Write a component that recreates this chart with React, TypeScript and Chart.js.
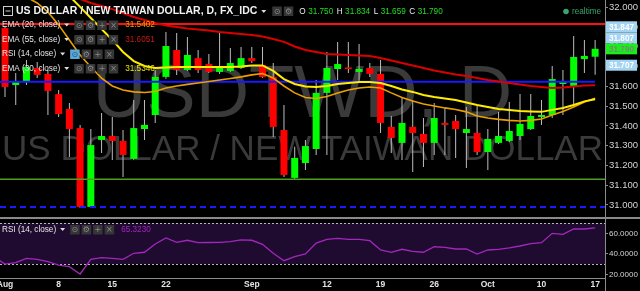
import React, { useEffect, useRef } from "react";
import { Chart, registerables } from "chart.js";

Chart.register(...registerables);

const FONT = "'Liberation Sans', Arial, sans-serif";

// ---------- data (index 0 = Jul 29 2016, index 56 = Oct 17 2016) ----------
const opens = [31.960, 31.895, 31.607, 31.622, 31.693, 31.663, 31.561, 31.486, 31.389, 30.990,
  31.329, 31.349, 31.324, 31.233, 31.384, 31.455, 31.648, 31.784, 31.683, 31.743,
  31.713, 31.673, 31.678, 31.693, 31.743, 31.708, 31.648, 31.379, 31.137, 31.212,
  31.283, 31.567, 31.688, 31.693, 31.673, 31.693, 31.663, 31.395, 31.314, 31.395,
  31.359, 31.314, 31.415, 31.425, 31.364, 31.364, 31.268, 31.314, 31.324, 31.349,
  31.384, 31.445, 31.455, 31.612, 31.602, 31.738, 31.750];
const highs = [31.990, 31.905, 31.668, 31.733, 31.723, 31.683, 31.582, 31.516, 31.405, 31.384,
  31.465, 31.445, 31.379, 31.531, 31.531, 31.683, 31.875, 31.870, 31.850, 31.784,
  31.764, 31.875, 31.794, 31.799, 31.799, 31.799, 31.718, 31.506, 31.294, 31.329,
  31.632, 31.774, 31.824, 31.824, 31.814, 31.718, 31.733, 31.450, 31.541, 31.531,
  31.440, 31.516, 31.491, 31.455, 31.496, 31.501, 31.384, 31.470, 31.521, 31.561,
  31.561, 31.531, 31.703, 31.683, 31.855, 31.835, 31.834];
const lows = [31.880, 31.546, 31.506, 31.607, 31.642, 31.455, 31.445, 31.243, 30.985, 30.985,
  31.263, 31.228, 31.142, 31.228, 31.329, 31.415, 31.638, 31.658, 31.678, 31.668,
  31.668, 31.663, 31.673, 31.688, 31.718, 31.643, 31.344, 31.142, 31.127, 31.177,
  31.253, 31.253, 31.632, 31.668, 31.617, 31.648, 31.364, 31.263, 31.228, 31.167,
  31.192, 31.253, 31.253, 31.238, 31.187, 31.253, 31.177, 31.309, 31.319, 31.329,
  31.379, 31.405, 31.440, 31.455, 31.496, 31.668, 31.659];
const closes = [31.900, 31.597, 31.622, 31.698, 31.658, 31.577, 31.460, 31.384, 30.990, 31.303,
  31.349, 31.324, 31.253, 31.389, 31.405, 31.648, 31.804, 31.683, 31.759, 31.683,
  31.673, 31.703, 31.718, 31.743, 31.728, 31.648, 31.395, 31.152, 31.238, 31.298,
  31.567, 31.693, 31.713, 31.688, 31.688, 31.663, 31.415, 31.339, 31.415, 31.364,
  31.314, 31.440, 31.405, 31.384, 31.384, 31.268, 31.334, 31.349, 31.374, 31.410,
  31.450, 31.455, 31.637, 31.622, 31.749, 31.754, 31.790];

const ema20 = [32.128, 32.103, 32.077, 32.052, 32.022, 31.976, 31.911, 31.835, 31.759, 31.698,
  31.642, 31.602, 31.582, 31.572, 31.569, 31.574, 31.592, 31.602, 31.610, 31.617,
  31.625, 31.632, 31.640, 31.648, 31.658, 31.665, 31.642, 31.602, 31.567, 31.544,
  31.539, 31.549, 31.567, 31.582, 31.592, 31.597, 31.592, 31.567, 31.544, 31.526,
  31.511, 31.501, 31.491, 31.483, 31.471, 31.450, 31.440, 31.433, 31.428, 31.425,
  31.428, 31.435, 31.455, 31.473, 31.496, 31.521, 31.5402];
const ema30 = [32.330, 32.300, 32.265, 32.229, 32.189, 32.148, 32.098, 32.057, 32.002, 31.946,
  31.890, 31.835, 31.774, 31.728, 31.703, 31.693, 31.696, 31.698, 31.698, 31.698,
  31.698, 31.698, 31.698, 31.701, 31.706, 31.706, 31.678, 31.637, 31.612, 31.599,
  31.597, 31.602, 31.612, 31.617, 31.622, 31.622, 31.617, 31.602, 31.584, 31.572,
  31.556, 31.546, 31.539, 31.531, 31.518, 31.506, 31.496, 31.486, 31.481, 31.476,
  31.473, 31.471, 31.481, 31.491, 31.506, 31.524, 31.5346];
const ema55 = [32.209, 32.184, 32.158, 32.133, 32.113, 32.093, 32.072, 32.057, 32.042, 32.022,
  32.007, 31.991, 31.971, 31.951, 31.936, 31.921, 31.908, 31.900, 31.893, 31.888,
  31.883, 31.875, 31.870, 31.865, 31.860, 31.852, 31.840, 31.825, 31.802, 31.784,
  31.774, 31.764, 31.761, 31.759, 31.756, 31.754, 31.744, 31.731, 31.718, 31.706,
  31.693, 31.680, 31.670, 31.660, 31.653, 31.642, 31.632, 31.625, 31.617, 31.610,
  31.602, 31.597, 31.592, 31.594, 31.599, 31.604, 31.6051];
const rsi14 = [37, 30, 31.3, 35.6, 34.6, 32.3, 29, 27.4, 20.3, 34.6,
  36.2, 35.6, 34.6, 40.5, 41.5, 49.6, 55.4, 51.2, 53.2, 50.9,
  51, 51.2, 51.8, 53.5, 53.2, 49.3, 40.5, 33.3, 37.2, 39.8,
  50.5, 54.1, 55.1, 54.1, 54.1, 52.8, 43.7, 41.5, 44.4, 42.4,
  41.5, 46.9, 46.3, 44.7, 44.7, 39.8, 43.7, 44.4, 45.7, 47.6,
  49.9, 50.8, 60, 59, 64.2, 64.2, 65.323];

const levelValues = [31.916, 31.624, 31.13, 30.99];
const priceMarks = [31.847, 31.807, 31.707];
const xTickIndex = [1, 6, 11, 16, 24, 31, 36, 41, 46, 51, 56];
const xTickText = ["Aug", "8", "15", "22", "Sep", "12", "19", "26", "Oct", "10", "17"];
const priceTickValues = [31.0, 31.1, 31.2, 31.3, 31.4, 31.5, 31.6, 31.7, 31.8, 31.9, 32.0];
const rsiTickValues = [20, 40, 60];
const rsiBand = [30, 70];

const symbolTitle = "US DOLLAR / NEW TAIWAN DOLLAR, D, FX_IDC";
const watermarkMain = "USDTWD, D";
const watermarkSub = "US DOLLAR / NEW TAIWAN DOLLAR";
const studyNames = ["EMA (20, close)", "EMA (55, close)", "RSI (14, close)", "EMA (30, close)"];

// ---------- view / style ----------
const X_MIN = 0.534, X_MAX = 56.92;
const P_MIN = 30.934, P_MAX = 32.037;
const R_MIN = 16.39, R_MAX = 73.95;
const UP = "#00ff00", DOWN = "#ff0000", WICK = "#bdbdbd";
const C_EMA20 = "#eaa000", C_EMA30 = "#ffec00", C_EMA55 = "#d90000", C_RSI = "#a326bd";
const levelStyles = [
  { color: "#ff1010", width: 2, dash: [] as number[], toLast: false },
  { color: "#1a1aff", width: 2, dash: [] as number[], toLast: true },
  { color: "#4f9e22", width: 1.5, dash: [] as number[], toLast: false },
  { color: "#1a1aff", width: 2, dash: [6, 4], toLast: false },
];

const last = closes.length - 1;
const idx = closes.map((_, i) => i);

function caret(ctx: CanvasRenderingContext2D, x: number, y: number, color: string) {
  ctx.fillStyle = color;
  ctx.beginPath();
  ctx.moveTo(x, y - 1.5);
  ctx.lineTo(x + 5, y - 1.5);
  ctx.lineTo(x + 2.5, y + 1.5);
  ctx.closePath();
  ctx.fill();
}

function buttons(ctx: CanvasRenderingContext2D, x: number, y: number, glyphs: string[], active: number) {
  glyphs.forEach((g, i) => {
    const bx = x + i * 11.5;
    ctx.fillStyle = i === active ? "#5ba8d8" : "#363636";
    ctx.fillRect(bx, y - 4.5, 9.5, 9.5);
    ctx.fillStyle = i === active ? "#1d4f7a" : "#8a8a8a";
    ctx.font = "8px 'DejaVu Sans', sans-serif";
    ctx.textAlign = "center";
    ctx.textBaseline = "middle";
    ctx.fillText(g, bx + 4.75, y + 0.5);
  });
  ctx.textAlign = "left";
}

const mainPlugin = {
  id: "mainOverlay",
  beforeDatasetsDraw(chart: any) {
    const { ctx, chartArea } = chart;
    const cx = (chartArea.left + chartArea.right) / 2;
    ctx.save();
    ctx.fillStyle = "#3a3a3a";
    ctx.textAlign = "center";
    ctx.textBaseline = "alphabetic";
    ctx.font = `74px ${FONT}`;
    ctx.fillText(watermarkMain, cx, 117);
    ctx.font = `35px ${FONT}`;
    ctx.fillText(watermarkSub, cx, 160);
    ctx.restore();
  },
  afterDraw(chart: any) {
    const { ctx } = chart;
    const yScale = chart.scales.y;
    ctx.save();
    ctx.textBaseline = "middle";
    ctx.textAlign = "left";
    ctx.strokeStyle = "#cfcfcf";
    ctx.lineWidth = 1;
    ctx.strokeRect(3.5, 6.5, 9, 9);
    ctx.beginPath();
    ctx.moveTo(5.5, 11);
    ctx.lineTo(10.5, 11);
    ctx.stroke();
    ctx.font = `bold 10.5px ${FONT}`;
    ctx.fillStyle = "#f2f2f2";
    ctx.fillText(symbolTitle, 16, 11.5);
    let x = 16 + ctx.measureText(symbolTitle).width + 4;
    caret(ctx, x, 11.5, "#dddddd");
    x += 11;
    buttons(ctx, x, 11, ["\u2299", "\u2699"], -1);
    x += 2 * 11.5 + 4;
    const ohlc: [string, number][] = [["O", opens[last]], ["H", highs[last]], ["L", lows[last]], ["C", closes[last]]];
    ctx.font = `8.2px ${FONT}`;
    ohlc.forEach(([k, v]) => {
      ctx.fillStyle = "#eeeeee";
      ctx.fillText(k, x, 11.5);
      x += ctx.measureText(k).width + 2.5;
      const s = v.toFixed(3);
      ctx.fillStyle = "#22dd22";
      ctx.fillText(s, x, 11.5);
      x += ctx.measureText(s).width + 3.5;
    });
    ctx.fillStyle = "#3aa56f";
    ctx.beginPath();
    ctx.arc(566, 11.5, 2.8, 0, Math.PI * 2);
    ctx.fill();
    ctx.fillText("realtime", 572, 11.5);

    const rowY = [25, 39.5, 54, 68.5];
    const rowVals: (string | null)[] = [ema20[last].toFixed(4), ema55[last].toFixed(4), null, ema30[last].toFixed(4)];
    const rowCols = [C_EMA20, "#cc1515", "", "#e8e800"];
    studyNames.forEach((name, r) => {
      ctx.font = `8.2px ${FONT}`;
      ctx.fillStyle = "#e6e6e6";
      ctx.fillText(name, 2, rowY[r]);
      const w = ctx.measureText(name).width;
      caret(ctx, 2 + w + 4, rowY[r], "#dddddd");
      const bx = 2 + w + 14;
      buttons(ctx, bx, rowY[r], ["\u2299", "\u2699", "+", "\u00d7"], r === 2 ? 0 : -1);
      const v = rowVals[r];
      if (v) {
        ctx.font = `8.2px ${FONT}`;
        ctx.fillStyle = rowCols[r];
        ctx.fillText(v, bx + 4 * 11.5 + 5, rowY[r]);
      }
    });

    const cur = closes[last];
    const curY = yScale.getPixelForValue(cur);
    const items: { v: number; y: number; cur: boolean }[] = [{ v: cur, y: curY, cur: true }];
    const above = priceMarks.filter((v) => v > cur).sort((a, b) => a - b);
    const below = priceMarks.filter((v) => v <= cur).sort((a, b) => b - a);
    let prev = curY;
    above.forEach((v) => {
      const y = Math.min(yScale.getPixelForValue(v), prev - 11);
      items.push({ v, y, cur: false });
      prev = y;
    });
    prev = curY;
    below.forEach((v) => {
      const y = Math.max(yScale.getPixelForValue(v), prev + 11);
      items.push({ v, y, cur: false });
      prev = y;
    });
    ctx.font = `bold 8.2px ${FONT}`;
    ctx.textAlign = "center";
    items.forEach((it) => {
      ctx.fillStyle = it.cur ? "#19ef19" : "#a3d5f3";
      ctx.fillRect(606, it.y - 5.5, 31, 11);
      ctx.fillStyle = it.cur ? "#6f8f6f" : "#ffffff";
      ctx.fillText(it.v.toFixed(3), 621.5, it.y + 0.5);
    });
    ctx.restore();
  },
};

const rsiPlugin = {
  id: "rsiOverlay",
  beforeDatasetsDraw(chart: any) {
    const { ctx, chartArea } = chart;
    const y = chart.scales.y;
    const yTop = y.getPixelForValue(rsiBand[1]);
    const yBot = y.getPixelForValue(rsiBand[0]);
    ctx.save();
    ctx.fillStyle = "#1f0b2f";
    ctx.fillRect(chartArea.left, yTop, chartArea.right - chartArea.left, yBot - yTop);
    ctx.strokeStyle = "#b8b8b8";
    ctx.lineWidth = 1;
    ctx.setLineDash([2, 2]);
    [yTop, yBot].forEach((yy) => {
      ctx.beginPath();
      ctx.moveTo(chartArea.left, Math.round(yy) + 0.5);
      ctx.lineTo(chartArea.right, Math.round(yy) + 0.5);
      ctx.stroke();
    });
    ctx.restore();
  },
  afterDraw(chart: any) {
    const { ctx, chartArea } = chart;
    ctx.save();
    ctx.strokeStyle = "#8c8c8c";
    ctx.lineWidth = 1;
    ctx.beginPath();
    ctx.moveTo(chartArea.right + 0.5, chartArea.bottom);
    ctx.lineTo(chartArea.right + 0.5, chart.height);
    ctx.stroke();
    ctx.textBaseline = "middle";
    ctx.textAlign = "left";
    ctx.font = `8.2px ${FONT}`;
    ctx.fillStyle = "#e6e6e6";
    const name = studyNames[2];
    ctx.fillText(name, 2, 10.5);
    const w = ctx.measureText(name).width;
    caret(ctx, 2 + w + 4, 10.5, "#dddddd");
    const bx = 2 + w + 14;
    buttons(ctx, bx, 10.5, ["\u2299", "\u2699", "+", "\u00d7"], -1);
    ctx.font = `8.2px ${FONT}`;
    ctx.fillStyle = C_RSI;
    ctx.fillText(rsi14[last].toFixed(4), bx + 4 * 11.5 + 5, 10.5);
    ctx.restore();
  },
};

function lineDs(values: number[], color: string, width: number) {
  return {
    type: "line" as const,
    data: values.map((v, i) => ({ x: i, y: v })),
    borderColor: color,
    borderWidth: width,
    pointRadius: 0,
    tension: 0,
    fill: false,
    order: 1,
  };
}

export default function App() {
  const mainRef = useRef<HTMLCanvasElement>(null);
  const rsiRef = useRef<HTMLCanvasElement>(null);

  useEffect(() => {
    document.body.style.margin = "0";
    document.body.style.background = "#000";
    Chart.defaults.font.family = FONT;

    const up = idx.map((i) => closes[i] >= opens[i]);
    const levelDs = levelValues.map((v, k) => ({
      type: "line" as const,
      data: [{ x: X_MIN, y: v }, { x: levelStyles[k].toLast ? last : X_MAX, y: v }],
      borderColor: levelStyles[k].color,
      borderWidth: levelStyles[k].width,
      borderDash: levelStyles[k].dash,
      pointRadius: 0,
      fill: false,
      order: 2,
    }));

    const c1 = new Chart(mainRef.current as HTMLCanvasElement, {
      type: "bar",
      data: {
        datasets: [
          {
            type: "bar",
            data: idx.map((i) => ({ x: i, y: [lows[i], highs[i]] })) as any,
            backgroundColor: WICK,
            grouped: false,
            maxBarThickness: 1,
            order: 20,
          } as any,
          {
            type: "bar",
            data: idx.map((i) => ({ x: i, y: [opens[i], closes[i]] })) as any,
            backgroundColor: up.map((u) => (u ? UP : DOWN)),
            grouped: false,
            maxBarThickness: 7,
            minBarLength: 1.5,
            order: 10,
          } as any,
          ...levelDs,
          lineDs(ema30, C_EMA30, 2),
          lineDs(ema20, C_EMA20, 1.6),
          lineDs(ema55, C_EMA55, 2),
        ] as any,
      },
      options: {
        responsive: false,
        animation: false,
        events: [],
        layout: { padding: 0 },
        plugins: { legend: { display: false }, tooltip: { enabled: false } },
        scales: {
          x: { type: "linear", min: X_MIN, max: X_MAX, display: false, offset: false, grid: { offset: false } },
          y: {
            type: "linear",
            position: "right",
            min: P_MIN,
            max: P_MAX,
            afterBuildTicks: (s: any) => {
              s.ticks = priceTickValues.map((v) => ({ value: v }));
            },
            afterFit: (s: any) => {
              s.width = 35;
              s.paddingTop = 0;
              s.paddingBottom = 0;
            },
            ticks: {
              autoSkip: false,
              color: "#d4d4d4",
              padding: 1,
              font: { size: 9.5, family: FONT },
              callback: (v: any) => Number(v).toFixed(3),
            },
            grid: { drawOnChartArea: false, drawTicks: true, tickLength: 3, color: "#8c8c8c" },
            border: { display: true, color: "#8c8c8c", width: 1 },
          },
        },
      } as any,
      plugins: [mainPlugin],
    });

    const c2 = new Chart(rsiRef.current as HTMLCanvasElement, {
      type: "line",
      data: {
        datasets: [
          {
            data: rsi14.map((v, i) => ({ x: i, y: v })),
            borderColor: C_RSI,
            borderWidth: 1.3,
            pointRadius: 0,
            tension: 0,
            fill: false,
          },
        ],
      },
      options: {
        responsive: false,
        animation: false,
        events: [],
        layout: { padding: 0 },
        plugins: { legend: { display: false }, tooltip: { enabled: false } },
        scales: {
          x: {
            type: "linear",
            position: "bottom",
            min: X_MIN,
            max: X_MAX,
            offset: false,
            afterBuildTicks: (s: any) => {
              s.ticks = xTickIndex.map((v) => ({ value: v }));
            },
            afterFit: (s: any) => {
              s.height = 13;
              s.paddingLeft = 0;
              s.paddingRight = 0;
            },
            ticks: {
              autoSkip: false,
              maxRotation: 0,
              minRotation: 0,
              padding: 2,
              color: "#e4e4e4",
              font: { size: 8.5, weight: "bold", family: FONT },
              callback: (v: any) => {
                const k = xTickIndex.indexOf(Number(v));
                return k >= 0 ? xTickText[k] : "";
              },
            },
            grid: { display: false, drawTicks: false },
            border: { display: true, color: "#8c8c8c", width: 1 },
          },
          y: {
            type: "linear",
            position: "right",
            min: R_MIN,
            max: R_MAX,
            afterBuildTicks: (s: any) => {
              s.ticks = rsiTickValues.map((v) => ({ value: v }));
            },
            afterFit: (s: any) => {
              s.width = 35;
              s.paddingTop = 0;
              s.paddingBottom = 0;
            },
            ticks: {
              autoSkip: false,
              color: "#d4d4d4",
              padding: 1,
              font: { size: 8, family: FONT },
              callback: (v: any) => Number(v).toFixed(4),
            },
            grid: { drawOnChartArea: false, drawTicks: true, tickLength: 3, color: "#8c8c8c" },
            border: { display: true, color: "#8c8c8c", width: 1 },
          },
        },
      } as any,
      plugins: [rsiPlugin],
    });

    return () => {
      c1.destroy();
      c2.destroy();
    };
  }, []);

  return (
    <div style={{ position: "relative", width: 640, height: 291, background: "#000", overflow: "hidden" }}>
      <canvas ref={mainRef} width={640} height={218} style={{ position: "absolute", left: 0, top: 0 }} />
      <div style={{ position: "absolute", left: 0, top: 217, width: 640, height: 2, background: "#8a8a8a" }} />
      <canvas ref={rsiRef} width={640} height={72} style={{ position: "absolute", left: 0, top: 219 }} />
    </div>
  );
}
